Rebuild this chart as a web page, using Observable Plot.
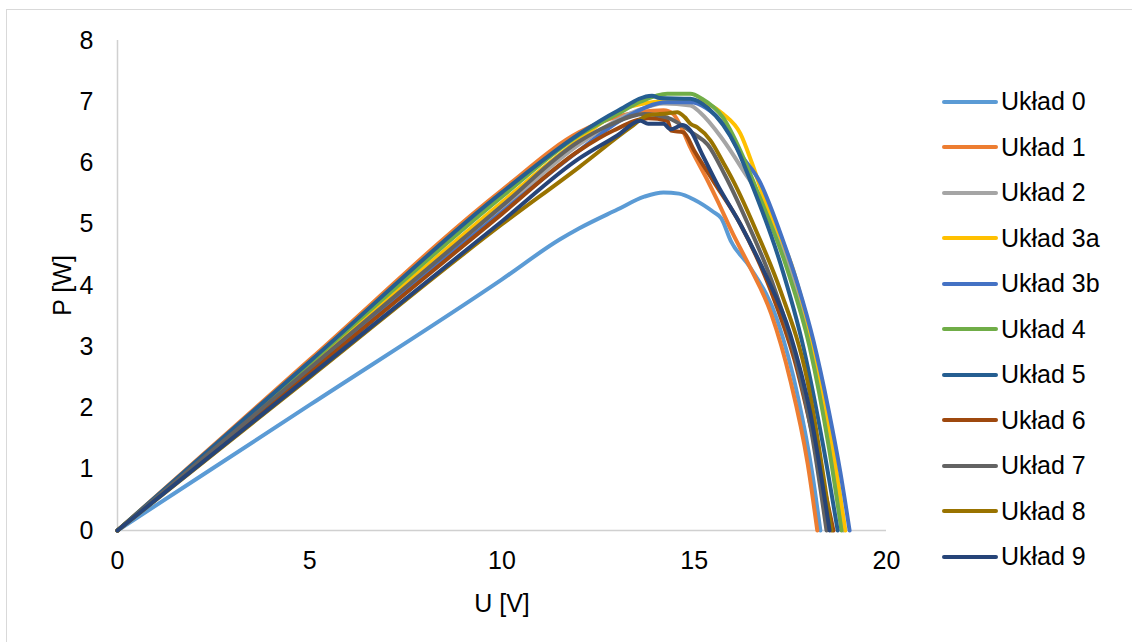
<!DOCTYPE html>
<html>
<head>
<meta charset="utf-8">
<script src="https://cdn.jsdelivr.net/npm/d3@7"></script>
<script src="https://cdn.jsdelivr.net/npm/@observablehq/plot@0.6"></script>
<style>
  html, body { margin: 0; padding: 0; background: #fff; }
  #wrap { position: relative; width: 1132px; height: 642px; overflow: hidden; font-family: "Liberation Sans", Arial, sans-serif; }
  #frame { position: absolute; left: 6px; top: 9px; width: 1140px; height: 650px; border: 1px solid #D9D9D9; box-sizing: border-box; }
  #legend { position: absolute; left: 942px; top: 79px; }
  .row { display: flex; align-items: center; height: 45.5px; }
  .sw { width: 56px; height: 4px; border-radius: 2px; margin-right: 3px; }
  .lab { font-size: 25px; color: #000; white-space: nowrap; }
</style>
</head>
<body>
<div id="wrap"><div id="frame"></div><div id="chart"></div><div id="legend"></div></div>
<script>
// Series names and colours
const seriesNames = ["Układ 0","Układ 1","Układ 2","Układ 3a","Układ 3b","Układ 4","Układ 5","Układ 6","Układ 7","Układ 8","Układ 9"];
const seriesColors = ["#5B9BD5","#ED7D31","#A5A5A5","#FFC000","#4472C4","#70AD47","#255E91","#9E480E","#636363","#997300","#264478"];
const xTicks = [0, 5, 10, 15, 20];
const yTicks = [0, 1, 2, 3, 4, 5, 6, 7, 8];

// [U (V), P (W)] points
const uklad0 = [[0,0],[5,2.05],[10,4.1],[11.5,4.75],[12,4.93],[13,5.24],[13.7,5.45],[14.2,5.52],[14.6,5.5],[15,5.4],[15.5,5.2],[15.7,5.1],[15.95,4.73],[16.46,4.29],[17.16,3.43],[17.7,2.17],[18.07,0.93],[18.28,0]];
const uklad1 = [[0,0],[5,2.79],[10,5.56],[12,6.5],[13,6.76],[13.6,6.83],[14.2,6.86],[14.45,6.8],[14.65,6.6],[14.9,6.25],[15.35,5.71],[15.6,5.39],[16.0,4.85],[16.4,4.36],[17.0,3.54],[17.5,2.45],[17.95,1.09],[18.2,0]];
const uklad2 = [[0,0],[5,2.63],[10,5.25],[12,6.3],[13.5,6.85],[14.2,6.97],[14.9,6.94],[15.16,6.82],[15.7,6.42],[16.2,5.95],[17.06,5.0],[17.6,4.0],[18.2,2.6],[18.6,1.3],[18.88,0]];
const uklad3a = [[0,0],[5,2.68],[10,5.36],[12,6.38],[13.2,6.89],[14,7.0],[14.9,7.03],[15.4,6.95],[15.75,6.8],[16.2,6.48],[16.5,6.0],[16.8,5.45],[17.6,4.2],[18.2,2.72],[18.67,1.09],[18.93,0]];
const uklad3b = [[0,0],[5,2.6],[10,5.2],[12,6.2],[13.2,6.74],[14.3,6.99],[14.9,6.99],[15.3,6.9],[15.8,6.6],[16.2,6.15],[16.7,5.7],[17.3,4.75],[17.7,4.0],[18.1,3.1],[18.5,1.95],[18.8,0.95],[19.04,0]];
const uklad4 = [[0,0],[5,2.73],[10,5.45],[12,6.45],[13,6.8],[13.6,7.0],[14.3,7.13],[14.9,7.13],[15.2,7.05],[15.75,6.74],[16.2,6.2],[16.6,5.6],[17.4,4.3],[18.0,3.0],[18.5,1.36],[18.83,0]];
const uklad5 = [[0,0],[5,2.76],[10,5.52],[12,6.47],[13,6.85],[13.9,7.1],[14.1,7.06],[14.9,7.05],[15.35,6.9],[16.1,6.25],[16.46,5.71],[17.24,4.36],[17.84,2.99],[18.36,1.36],[18.73,0]];
const uklad6 = [[0,0],[5,2.58],[10,5.17],[12,6.2],[12.9,6.53],[13.8,6.73],[14.3,6.69],[14.4,6.53],[14.72,6.5],[15.0,6.2],[15.5,5.7],[16.2,5.0],[17.0,3.9],[17.6,2.8],[18.1,1.5],[18.62,0]];
const uklad7 = [[0,0],[5,2.65],[10,5.3],[12,6.35],[12.8,6.62],[13.7,6.8],[14.3,6.74],[14.98,6.48],[15.35,6.3],[15.8,5.8],[16.4,5.0],[17.0,4.1],[17.6,2.9],[18.05,1.6],[18.44,0]];
const uklad8 = [[0,0],[5,2.5],[10,5.0],[12,5.93],[13.34,6.58],[13.8,6.78],[14.3,6.81],[14.56,6.83],[14.75,6.75],[14.9,6.64],[15.08,6.58],[15.42,6.37],[15.76,6.0],[16.02,5.7],[16.64,4.85],[17.24,3.92],[17.94,2.45],[18.57,0]];
const uklad9 = [[0,0],[5,2.52],[10,5.05],[12,6.07],[13,6.45],[13.6,6.69],[13.8,6.64],[14.2,6.64],[14.38,6.55],[14.7,6.62],[14.9,6.53],[15.2,6.15],[15.6,5.65],[16.2,5.0],[16.8,4.25],[17.5,3.2],[18.02,1.91],[18.52,0]];

const allSeries = [uklad0,uklad1,uklad2,uklad3a,uklad3b,uklad4,uklad5,uklad6,uklad7,uklad8,uklad9];
const rows = allSeries.flatMap((s, i) => s.map(([u, p]) => ({series: seriesNames[i], u, p})));

const font = '"Liberation Sans", Arial, sans-serif';
const chart = Plot.plot({
  width: 1132,
  height: 642,
  marginLeft: 117,
  marginRight: 246,
  marginTop: 40,
  marginBottom: 112,
  style: {fontFamily: font, fontSize: "25px", color: "#000", background: "transparent"},
  x: {domain: [0, 20], ticks: xTicks},
  y: {domain: [0, 8], ticks: yTicks},
  color: {domain: seriesNames, range: seriesColors},
  marks: [
    Plot.ruleX([0], {stroke: "#D0D0D0", strokeWidth: 1.5}),
    Plot.ruleY([0], {stroke: "#D0D0D0", strokeWidth: 1.5}),
    Plot.axisY({ticks: yTicks, tickSize: 0, tickPadding: 24, fontSize: 25, label: "P [W]", labelAnchor: "center", labelArrow: "none", labelOffset: 64}),
    Plot.axisX({ticks: xTicks, tickSize: 0, tickPadding: 21, fontSize: 25, label: "U [V]", labelAnchor: "center", labelArrow: "none", labelOffset: 81}),
    Plot.line(rows, {x: "u", y: "p", z: "series", stroke: "series", strokeWidth: 4, curve: "monotone-x", strokeLinejoin: "round", strokeLinecap: "round"})
  ]
});
document.getElementById("chart").appendChild(chart);

const legend = document.getElementById("legend");
seriesNames.forEach((name, i) => {
  const row = document.createElement("div");
  row.className = "row";
  const sw = document.createElement("div");
  sw.className = "sw";
  sw.style.background = seriesColors[i];
  const lab = document.createElement("span");
  lab.className = "lab";
  lab.textContent = name;
  row.appendChild(sw);
  row.appendChild(lab);
  legend.appendChild(row);
});
</script>
</body>
</html>
